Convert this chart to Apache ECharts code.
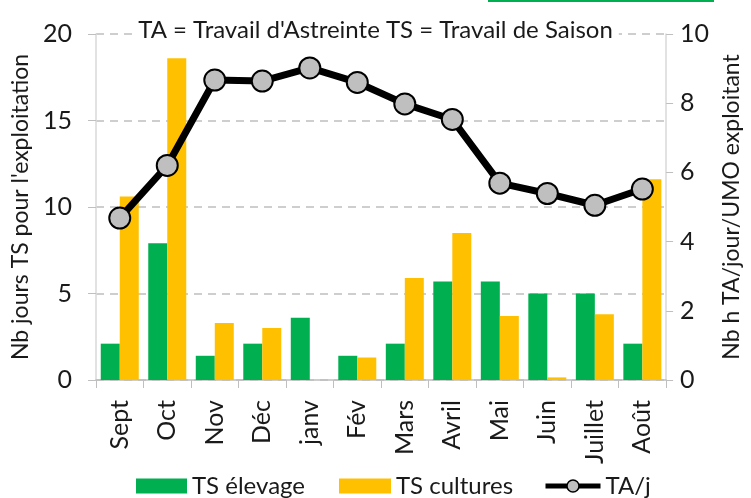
<!DOCTYPE html>
<html>
<head>
<meta charset="utf-8">
<script src="https://cdn.jsdelivr.net/npm/echarts@6/dist/echarts.min.js"></script>
<style>
  html, body { margin: 0; padding: 0; background: #fff; }
  #chart { width: 751px; height: 498px; }
</style>
</head>
<body>
<div id="chart"></div>
<script>
// Monthly seasonal work (days) and daily routine work (hours)
const months = ['Sept', 'Oct', 'Nov', 'Déc', 'janv', 'Fév', 'Mars', 'Avril', 'Mai', 'Juin', 'Juillet', 'Août'];
const tsElevage = [2.1, 7.9, 1.4, 2.1, 3.6, 1.4, 2.1, 5.7, 5.7, 5.0, 5.0, 2.1];
const tsCultures = [10.6, 18.6, 3.3, 3.0, 0, 1.3, 5.9, 8.5, 3.7, 0.15, 3.8, 11.6];
const taParJour = [4.68, 6.2, 8.67, 8.64, 9.02, 8.6, 7.98, 7.53, 5.69, 5.39, 5.05, 5.52];
const leftTicks = [0, 5, 10, 15, 20];
const rightTicks = [0, 2, 4, 6, 8, 10];

const FONT = 'Lato, "Noto Sans", sans-serif';
const TEXT = '#1a1a1a';
const chart = echarts.init(document.getElementById('chart'), null, { renderer: 'canvas' });

const legendText = { fontFamily: FONT, fontSize: 24, color: TEXT };
const LEGEND_TOP = 469;

chart.setOption({
  backgroundColor: '#ffffff',
  animation: false,
  textStyle: { fontFamily: FONT },
  title: {
    text: "TA = Travail d'Astreinte TS = Travail de Saison",
    left: 'center',
    top: 18,
    padding: [0, 6],
    backgroundColor: '#ffffff',
    textStyle: { fontFamily: FONT, fontSize: 24, fontWeight: 'normal', color: TEXT }
  },
  graphic: [{
    type: 'rect',
    shape: { x: 488, y: 0, width: 226, height: 2 },
    style: { fill: '#00b050' }
  }],
  legend: [{
    left: 131, top: LEGEND_TOP,
    itemWidth: 51, itemHeight: 15, itemGap: 0,
    textStyle: legendText,
    data: [{ name: 'TS élevage', icon: 'rect' }]
  }, {
    left: 334, top: LEGEND_TOP,
    itemWidth: 52, itemHeight: 15, itemGap: 0,
    textStyle: legendText,
    data: [{ name: 'TS cultures', icon: 'rect' }]
  }, {
    left: 538, top: LEGEND_TOP,
    itemWidth: 55, itemHeight: 15, itemGap: 0,
    textStyle: legendText,
    data: [{
      name: 'TA/j',
      lineStyle: { width: 5, color: '#000000' },
      itemStyle: { color: '#bfbfbf', borderColor: '#000000', borderWidth: 1.5 }
    }]
  }],
  grid: { left: 96, right: 74, top: 34, bottom: 118 },
  xAxis: {
    type: 'category',
    data: months,
    axisLine: { lineStyle: { color: '#bfbfbf', width: 1.5 } },
    axisTick: { show: true, alignWithLabel: false, length: 8, lineStyle: { color: '#bfbfbf' } },
    axisLabel: {
      rotate: 90,
      margin: 20,
      fontFamily: FONT,
      fontSize: 25,
      color: TEXT
    }
  },
  yAxis: [{
    type: 'value',
    min: 0, max: 20, interval: 5,
    name: "Nb jours TS pour l'exploitation",
    nameLocation: 'middle',
    nameGap: 61,
    nameTextStyle: { fontFamily: FONT, fontSize: 23, color: TEXT },
    axisLine: { show: true, lineStyle: { color: '#d9d9d9', width: 1.5 } },
    axisTick: { show: true, length: 8, lineStyle: { color: '#bfbfbf' } },
    axisLabel: {
      margin: 24, fontFamily: FONT, fontSize: 25, color: TEXT,
      customValues: leftTicks
    },
    splitLine: { show: true, lineStyle: { color: '#bfbfbf', type: [8, 6], width: 1.5 } }
  }, {
    type: 'value',
    min: 0, max: 10, interval: 2,
    name: 'Nb h TA/jour/UMO exploitant',
    nameLocation: 'middle',
    nameGap: 47,
    nameRotate: 90,
    nameTextStyle: { fontFamily: FONT, fontSize: 23, color: TEXT },
    axisLine: { show: true, lineStyle: { color: '#d9d9d9', width: 1.5 } },
    axisTick: { show: true, inside: false, length: 7, lineStyle: { color: '#bfbfbf' } },
    axisLabel: {
      margin: 14, fontFamily: FONT, fontSize: 25, color: TEXT,
      customValues: rightTicks
    },
    splitLine: { show: false }
  }],
  series: [{
    name: 'TS élevage',
    type: 'bar',
    data: tsElevage,
    barWidth: 19,
    barGap: '0%',
    itemStyle: { color: '#00b050' }
  }, {
    name: 'TS cultures',
    type: 'bar',
    data: tsCultures,
    barWidth: 19,
    itemStyle: { color: '#ffc000' }
  }, {
    name: 'TA/j',
    type: 'line',
    yAxisIndex: 1,
    data: taParJour,
    symbol: 'circle',
    symbolSize: 21,
    z: 5,
    lineStyle: { color: '#000000', width: 7 },
    itemStyle: { color: '#bfbfbf', borderColor: '#000000', borderWidth: 2 }
  }]
});
</script>
</body>
</html>
